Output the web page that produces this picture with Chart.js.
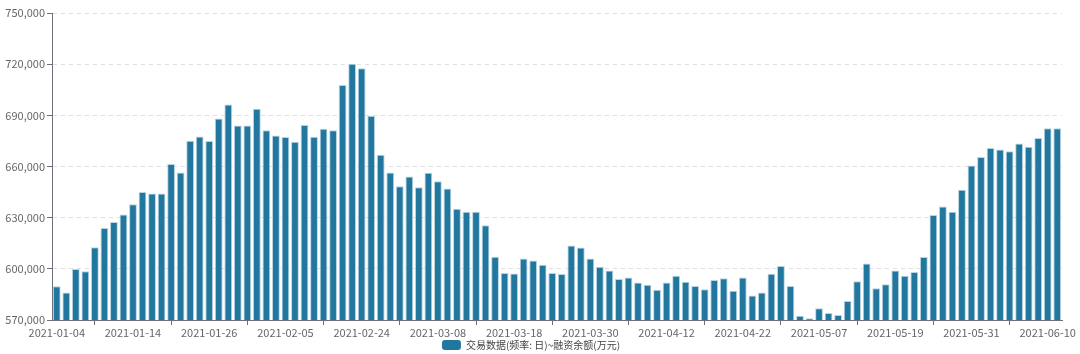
<!DOCTYPE html>
<html>
<head>
<meta charset="utf-8">
<script src="https://cdn.jsdelivr.net/npm/chart.js@4"></script>
<style>
html,body{margin:0;padding:0;background:#ffffff;}
#wrap{width:1080px;height:354px;position:relative;}
</style>
</head>
<body>
<div id="wrap"><canvas id="c" width="1080" height="354"></canvas></div>
<script>
// ---------- data ----------
const dates = [
  '2021-01-04','2021-01-05','2021-01-06','2021-01-07','2021-01-08',
  '2021-01-11','2021-01-12','2021-01-13','2021-01-14','2021-01-15',
  '2021-01-18','2021-01-19','2021-01-20','2021-01-21','2021-01-22',
  '2021-01-25','2021-01-26','2021-01-27','2021-01-28','2021-01-29',
  '2021-02-01','2021-02-02','2021-02-03','2021-02-04','2021-02-05',
  '2021-02-08','2021-02-09','2021-02-10','2021-02-18','2021-02-19',
  '2021-02-22','2021-02-23','2021-02-24','2021-02-25','2021-02-26',
  '2021-03-01','2021-03-02','2021-03-03','2021-03-04','2021-03-05',
  '2021-03-08','2021-03-09','2021-03-10','2021-03-11','2021-03-12',
  '2021-03-15','2021-03-16','2021-03-17','2021-03-18','2021-03-19',
  '2021-03-22','2021-03-23','2021-03-24','2021-03-25','2021-03-26',
  '2021-03-29','2021-03-30','2021-03-31','2021-04-01','2021-04-02',
  '2021-04-06','2021-04-07','2021-04-08','2021-04-09',
  '2021-04-12','2021-04-13','2021-04-14','2021-04-15','2021-04-16',
  '2021-04-19','2021-04-20','2021-04-21','2021-04-22','2021-04-23',
  '2021-04-26','2021-04-27','2021-04-28','2021-04-29','2021-04-30',
  '2021-05-06','2021-05-07',
  '2021-05-10','2021-05-11','2021-05-12','2021-05-13','2021-05-14',
  '2021-05-17','2021-05-18','2021-05-19','2021-05-20','2021-05-21',
  '2021-05-24','2021-05-25','2021-05-26','2021-05-27','2021-05-28',
  '2021-05-31','2021-06-01','2021-06-02','2021-06-03','2021-06-04',
  '2021-06-07','2021-06-08','2021-06-09','2021-06-10','2021-06-11'
];

const financingBalance = [
  589800, 586100, 599900, 598600, 612700, 623900, 627500, 631800, 637800, 645100,
  644100, 644100, 661400, 656500, 675100, 677600, 674900, 688200, 696300, 684100,
  684100, 693900, 681200, 678200, 677300, 674500, 684300, 677500, 682200, 681200,
  707800, 720300, 717600, 689800, 666900, 656500, 648400, 654100, 647800, 656300,
  651400, 647100, 635300, 633500, 633500, 625500, 607100, 597600, 597300, 606100,
  604900, 602400, 597600, 596900, 613700, 612500, 606100, 601200, 599000, 594100,
  594900, 592000, 590600, 587800, 592000, 595900, 592400, 590000, 588000, 593500,
  594500, 587100, 594900, 584300, 586100, 597100, 601600, 590000, 572500, 571000,
  576900, 574100, 572900, 581200, 592700, 603100, 588600, 591000, 599000, 595900,
  598200, 606900, 631600, 636500, 633500, 646300, 660600, 665500, 670800, 670000,
  669000, 673500, 671600, 676700, 682400, 682500
];

const yMin = 570000;
const yMax = 750000;
const yStep = 30000;
const seriesName = '交易数据(频率: 日)~融资余额(万元)';
const labelEvery = 8;

// ---------- chart ----------
const FONT = '"Noto Sans CJK SC", "Noto Sans", sans-serif';
const barColor = '#22779f';
const axisColor = '#6e7079';

const legendFit = {
  id: 'legendFit',
  beforeInit(chart) {
    const lg = chart.legend;
    if (!lg) return;
    const orig = lg.fit;
    lg.fit = function () {
      orig.call(this);
      this.height = Math.max(0, this.height - 6);
    };
  }
};

new Chart(document.getElementById('c'), {
  type: 'bar',
  data: {
    labels: dates,
    datasets: [{
      label: seriesName,
      data: financingBalance,
      backgroundColor: barColor,
      borderColor: '#b9d4e3',
      borderWidth: 1,
      categoryPercentage: 1.0,
      barPercentage: 0.82
    }]
  },
  plugins: [legendFit],
  options: {
    responsive: false,
    devicePixelRatio: 1,
    animation: false,
    layout: { padding: { left: 0, right: 18, top: 13, bottom: 0 } },
    plugins: {
      tooltip: { enabled: false },
      legend: {
        display: true,
        position: 'bottom',
        onClick: null,
        labels: {
          boxWidth: 19,
          boxHeight: 10,
          useBorderRadius: true,
          borderRadius: 3,
          padding: 2,
          color: '#444',
          font: { family: FONT, size: 10 },
          generateLabels(chart) {
            const items = Chart.defaults.plugins.legend.labels.generateLabels(chart);
            items.forEach(it => { it.lineWidth = 0; it.strokeStyle = it.fillStyle; });
            return items;
          }
        }
      }
    },
    scales: {
      x: {
        type: 'category',
        offset: true,
        afterFit(scale) { scale.height = 18; },
        grid: {
          display: true,
          offset: false,
          drawOnChartArea: false,
          drawTicks: true,
          tickLength: 5,
          tickColor: (ctx) => (ctx.index % labelEvery === labelEvery / 2 ? axisColor : 'rgba(0,0,0,0)')
        },
        border: { display: true, color: axisColor, width: 1 },
        ticks: {
          autoSkip: false,
          maxRotation: 0,
          minRotation: 0,
          padding: 1,
          color: '#666',
          font: { family: FONT, size: 11 },
          callback: (val, idx) => (idx % labelEvery === 0 ? dates[idx] : '')
        }
      },
      y: {
        min: yMin,
        max: yMax,
        afterFit(scale) { scale.width = 52; },
        grid: {
          color: '#e0e0e0',
          lineWidth: 1,
          drawTicks: true,
          tickLength: 5,
          tickColor: axisColor,
          tickBorderDash: []
        },
        border: { display: true, color: axisColor, width: 1, dash: [4, 4] },
        ticks: {
          stepSize: yStep,
          padding: 2,
          color: '#666',
          font: { family: FONT, size: 11 },
          callback: (v) => Number(v).toLocaleString('en-US')
        }
      }
    }
  }
});
</script>
</body>
</html>
